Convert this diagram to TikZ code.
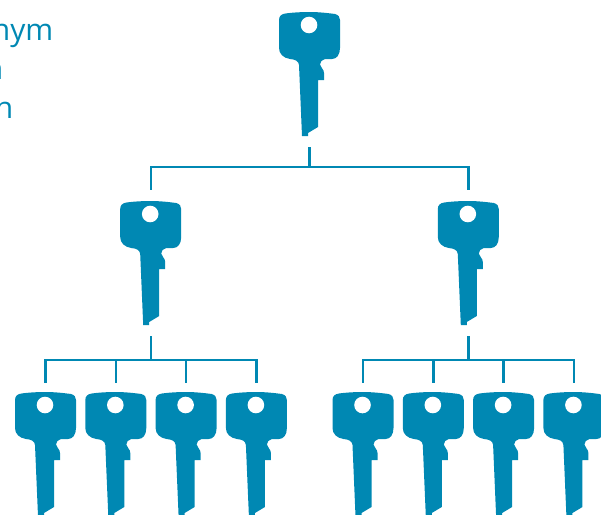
\documentclass[tikz,border=0pt]{standalone}
\usepackage{fontspec}
\setmainfont{Open Sans}
\usetikzlibrary{positioning}
\definecolor{keyBlue}{RGB}{0,136,179}
\tikzstyle{keyNode} = [rectangle, inner sep=0pt, outer xsep=0pt, outer ysep=10.5pt,
minimum width=62pt, minimum height=125pt, node distance=70.3pt,
path picture={
  \fill[keyBlue] (0,62) .. controls (9,62) and (18,61) .. (25.5,60)
    .. controls (29,59) and (30.5,57) .. (30.5,54)
    -- (30.5,26) .. controls (30.5,19) and (27,15) .. (22.5,15)
    -- (15.5,15) .. controls (12.5,14.5) and (10.5,12) .. (10.5,9.5)
    .. controls (11,6) and (14.5,5) .. (14.5,1)
    -- (14.5,-6)
    -- (8.5,-6) -- (8.5,-53) -- (-1.5,-59) -- (-1.5,-62) -- (-7.5,-62)
    -- (-10.5,9) .. controls (-11,13) and (-14,14.5) .. (-19.5,15)
    .. controls (-26,16) and (-30.5,20) .. (-30.5,26)
    -- (-30.5,54) .. controls (-30.5,58) and (-28,60) .. (-24,60.5)
    .. controls (-17,61.5) and (-8,62) .. (0,62) -- cycle;
  \fill[white] (-0.5,49) circle (8.3);
}]
\tikzstyle{leafKey} = [keyNode, outer ysep=8.5pt]
\tikzstyle{line} = [draw, keyBlue, line width=2.4pt]
\tikzstyle{label} = [text=keyBlue, inner sep=0pt, font=\fontsize{30}{30}\selectfont]

\begin{document}
\begin{tikzpicture}[x=1pt,y=1pt]
   \useasboundingbox (0,0) rectangle (601,-514);
   \clip (0,0) rectangle (601,-514);

   % Text cut by the left edge
   \node[label, anchor=base east] (lineOne) at (53.5,-40) {nym};
   \node[label, anchor=base east] (lineTwo) at (3.5,-79) {n};
   \node[label, anchor=base east] (lineThree) at (13.5,-118) {n};

   % Keys
   \node[keyNode] (root) at (309.5,-74) {};
   \node[keyNode] (left) at (150.7,-263) {};
   \node[keyNode] (right) at (468.3,-263) {};

   \node[leafKey] (L1) at (45.5,-454) {};
   \node[leafKey] (L2) [right of = L1] {};
   \node[leafKey] (L3) [right of = L2] {};
   \node[leafKey] (L4) [right of = L3] {};

   \node[leafKey] (R1) at (363,-454) {};
   \node[leafKey] (R2) [right of = R1] {};
   \node[leafKey] (R3) [right of = R2] {};
   \node[leafKey] (R4) [right of = R3] {};

   % Branch points
   \coordinate (busRoot) at (root.south |- 0,-167);
   \coordinate (busLeft) at (left.south |- 0,-360);
   \coordinate (busRight) at (right.south |- 0,-360);

   %% Lines
   \path[line] (root.south) -- (busRoot);
   \path[line] (busRoot) -| (left.north);
   \path[line] (busRoot) -| (right.north);

   \path[line] (left.south) -- (busLeft);
   \foreach \k in {L1,L2,L3,L4}
      \path[line] (busLeft) -| (\k.north);

   \path[line] (right.south) -- (busRight);
   \foreach \k in {R1,R2,R3,R4}
      \path[line] (busRight) -| (\k.north);

\end{tikzpicture}
\end{document}
